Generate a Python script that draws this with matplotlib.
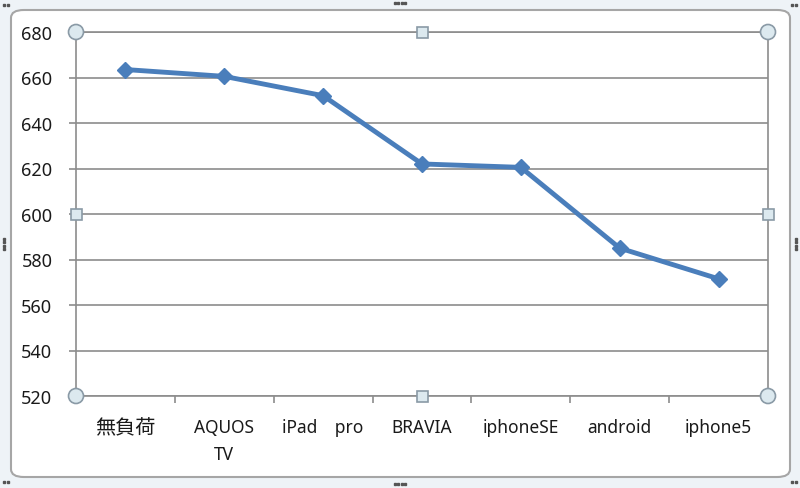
import matplotlib
matplotlib.use("Agg")
import matplotlib.pyplot as plt
from matplotlib.patches import FancyBboxPatch, Ellipse, Rectangle
import numpy as np

plt.rcParams['font.family'] = ['Noto Sans', 'Noto Sans CJK JP', 'DejaVu Sans']

categories = ["無負荷", "AQUOS\nTV", "iPad\u3000pro", "BRAVIA", "iphoneSE", "android", "iphone5"]
values = [663.5, 660.5, 652.0, 622.0, 620.5, 585.0, 571.5]
y_ticks = [520, 540, 560, 580, 600, 620, 640, 660, 680]

W, H = 800, 489
fig = plt.figure(figsize=(W / 100, H / 100), dpi=100)
fig.patch.set_facecolor('#eef3f7')

# chart area (rounded white frame)
frame = FancyBboxPatch((11 / W, 11 / H), 779 / W, 467 / H,
                       boxstyle="round,pad=0,rounding_size=0.016",
                       transform=fig.transFigure, facecolor='white',
                       edgecolor='#a6a6a6', linewidth=1.5, zorder=-5)
fig.patches.append(frame)

# selection dots on chart border
dot = '#555555'
def add_dot(px, py):
    fig.patches.append(Rectangle(((px - 1) / W, (H - py - 1) / H), 2 / W, 2 / H,
                                 transform=fig.transFigure, color=dot, zorder=5))
for k in (-5, -2, 2, 5):
    add_dot(400 + k, 4)
    add_dot(400 + k, 485)
for k in (-5, -2, 2, 5):
    add_dot(4, 245 + k)
    add_dot(796, 245 + k)
for (cx, cy) in [(6, 6), (794, 6), (794, 483), (6, 483)]:
    for dx in (-2, 2):
        add_dot(cx + dx, cy)

L, R, T, B = 76, 768, 33, 397
ax = fig.add_axes([L / W, 1 - B / H, (R - L) / W, (B - T) / H])
ax.set_facecolor('white')

x = np.arange(len(categories))
ax.plot(x, values, color='#4a7ebb', linewidth=3.5, marker='D', markersize=8,
        markerfacecolor='#4a7ebb', markeredgecolor='#4a7ebb', zorder=4,
        solid_joinstyle='round')

ax.set_xlim(-0.5, len(categories) - 0.5)
ax.set_ylim(520, 680)
ax.set_yticks(y_ticks)
ax.set_yticklabels([str(v) for v in y_ticks], fontsize=13, color='#1a1a1a')
ax.yaxis.grid(True, color='#8c8c8c', linewidth=1.2)
ax.set_axisbelow(True)

ax.set_xticks(x)
ax.set_xticklabels(categories, fontsize=12.5, color='#1a1a1a', linespacing=1.6)
ax.set_xticks(np.arange(len(categories) + 1) - 0.5, minor=True)
ax.tick_params(axis='x', which='major', length=0, pad=16)
ax.tick_params(axis='x', which='minor', length=5, color='#8c8c8c', width=1.2)
ax.tick_params(axis='y', length=5, color='#8c8c8c', width=1.2, pad=12)
ax.get_xticklabels()[0].set_fontsize(14.5)

for s in ax.spines.values():
    s.set_color('#8c8c8c')
    s.set_linewidth(1.2)

# selection handles on the plot area
hcol, hedge = '#dce9ef', '#8a9aa6'
for (px, py) in [(L, T), (R, T), (L, B), (R, B)]:
    fig.patches.append(Ellipse((px / W, 1 - py / H), 15 / W, 15 / H, transform=fig.transFigure,
                               facecolor=hcol, edgecolor=hedge, linewidth=1.2, zorder=10))
for (px, py) in [((L + R) / 2, T), ((L + R) / 2, B), (L, (T + B) / 2), (R, (T + B) / 2)]:
    fig.patches.append(Rectangle(((px - 5.5) / W, 1 - (py + 5.5) / H), 11 / W, 11 / H,
                                 transform=fig.transFigure, facecolor=hcol,
                                 edgecolor=hedge, linewidth=1.2, zorder=10))

fig.savefig('out.png', dpi=100, facecolor=fig.get_facecolor())
